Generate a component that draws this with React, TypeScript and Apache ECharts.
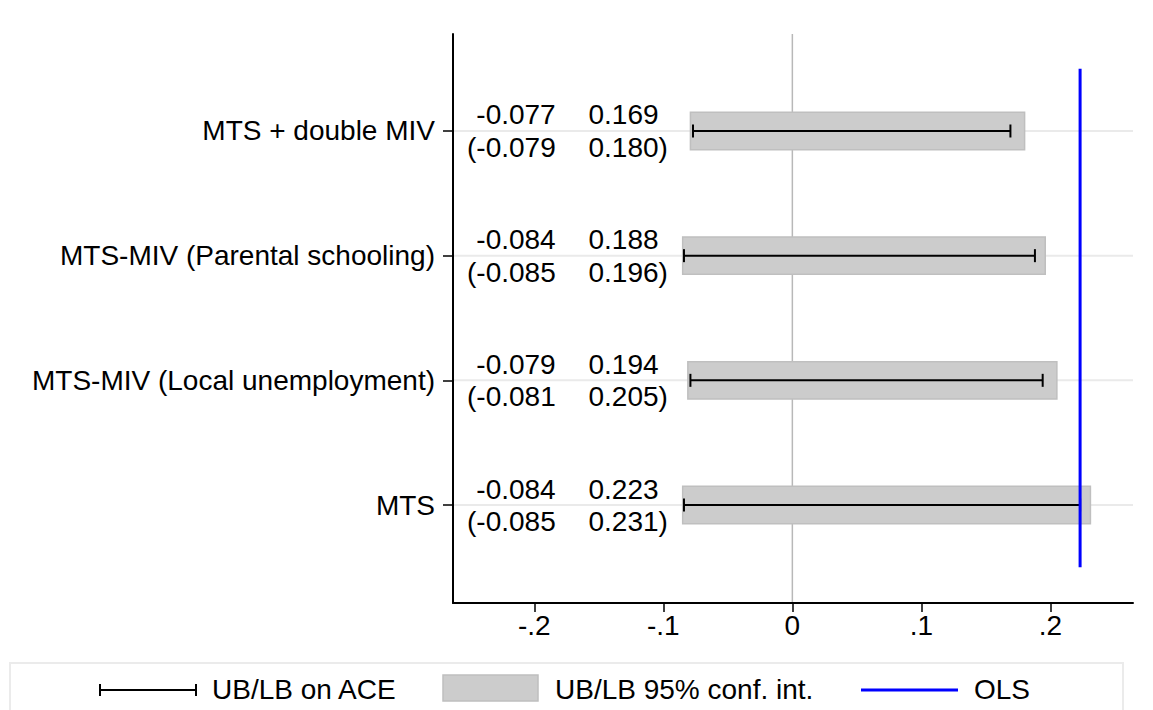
import React, { useEffect, useRef } from "react";
import * as echarts from "echarts";

const categories = [
  "MTS",
  "MTS-MIV (Local unemployment)",
  "MTS-MIV (Parental schooling)",
  "MTS + double MIV",
];
const positions = [1, 2, 3, 4];
const aceLower = [-0.084, -0.079, -0.084, -0.077];
const aceUpper = [0.223, 0.194, 0.188, 0.169];
const ciLower = [-0.085, -0.081, -0.085, -0.079];
const ciUpper = [0.231, 0.205, 0.196, 0.18];
const olsEstimate = 0.223;
const olsSpan = [0.5, 4.5];
const xTicks = [-0.2, -0.1, 0, 0.1, 0.2];
const xTickLabels = ["-.2", "-.1", "0", ".1", ".2"];

const FONT = "'Liberation Sans', Arial, Helvetica, sans-serif";
const FS = 28;
const LABEL_LEFT_X = -0.1834;
const LABEL_RIGHT_X = -0.158;

export default function App() {
  const ref = useRef<HTMLDivElement>(null);
  useEffect(() => {
    if (!ref.current) return;
    const chart = echarts.init(ref.current, undefined, { renderer: "svg" });
    const rows = positions.map((p, i) => [p, aceLower[i], aceUpper[i], ciLower[i], ciUpper[i]]);
    const fmt = (v: number) => v.toFixed(3);

    const option: any = {
      animation: false,
      backgroundColor: "#ffffff",
      grid: { left: 453, right: 20, top: 34, bottom: 107, containLabel: false },
      xAxis: {
        type: "value",
        min: -0.263,
        max: 0.264,
        axisLine: { show: true, onZero: false, lineStyle: { color: "#000", width: 2 } },
        axisTick: { show: true, customValues: xTicks, length: 9, lineStyle: { color: "#000", width: 1.5 } },
        axisLabel: {
          customValues: xTicks,
          color: "#000",
          fontSize: FS,
          fontFamily: FONT,
          margin: 8,
          formatter: (v: number) => {
            const i = xTicks.findIndex((t) => Math.abs(t - v) < 1e-9);
            return i >= 0 ? xTickLabels[i] : "";
          },
        },
        splitLine: { show: false },
      },
      yAxis: {
        type: "value",
        min: 0.214,
        max: 4.778,
        axisLine: { show: true, onZero: false, lineStyle: { color: "#000", width: 2 } },
        axisTick: { show: true, customValues: positions, length: 10, lineStyle: { color: "#000", width: 1.5 } },
        axisLabel: {
          customValues: positions,
          color: "#000",
          fontSize: FS,
          fontFamily: FONT,
          margin: 18,
          formatter: (v: number) => categories[Math.round(v) - 1] ?? "",
        },
        splitLine: { show: false },
      },
      graphic: [
        {
          type: "rect",
          shape: { x: 10, y: 663, width: 1113, height: 80 },
          style: { fill: "none", stroke: "#ebebeb", lineWidth: 2 },
        },
        { type: "line", shape: { x1: 100, y1: 690, x2: 196, y2: 690 }, style: { stroke: "#000", lineWidth: 2 } },
        { type: "line", shape: { x1: 100, y1: 684, x2: 100, y2: 696 }, style: { stroke: "#000", lineWidth: 2 } },
        { type: "line", shape: { x1: 196, y1: 684, x2: 196, y2: 696 }, style: { stroke: "#000", lineWidth: 2 } },
        {
          type: "text",
          x: 212,
          y: 689,
          style: { text: "UB/LB on ACE", fontSize: FS, fontFamily: FONT, fill: "#000", align: "left", verticalAlign: "middle" },
        },
        {
          type: "rect",
          shape: { x: 443, y: 675, width: 95, height: 26 },
          style: { fill: "#cccccc", stroke: "#bfbfbf", lineWidth: 1.5 },
        },
        {
          type: "text",
          x: 555,
          y: 689,
          style: { text: "UB/LB 95% conf. int.", fontSize: FS, fontFamily: FONT, fill: "#000", align: "left", verticalAlign: "middle" },
        },
        { type: "line", shape: { x1: 861, y1: 690, x2: 958, y2: 690 }, style: { stroke: "#0000ff", lineWidth: 3 } },
        {
          type: "text",
          x: 974,
          y: 689,
          style: { text: "OLS", fontSize: FS, fontFamily: FONT, fill: "#000", align: "left", verticalAlign: "middle" },
        },
      ],
      series: [
        {
          type: "custom",
          name: "grid",
          z: 1,
          data: positions.map((p) => [p]),
          encode: { y: 0 },
          renderItem: (params: any, api: any) => {
            const cs = params.coordSys;
            const y = api.coord([0, api.value(0)])[1];
            return {
              type: "line",
              shape: { x1: cs.x + 1, y1: y, x2: cs.x + cs.width, y2: y },
              style: { stroke: "#eaeaea", lineWidth: 2 },
            };
          },
        },
        {
          type: "custom",
          name: "zero",
          z: 2,
          data: [[0]],
          encode: { x: 0 },
          renderItem: (params: any, api: any) => {
            const cs = params.coordSys;
            const x = api.coord([api.value(0), 1])[0];
            return {
              type: "line",
              shape: { x1: x, y1: cs.y, x2: x, y2: cs.y + cs.height - 1 },
              style: { stroke: "#b8b8b8", lineWidth: 1.5 },
            };
          },
        },
        {
          type: "custom",
          name: "bounds",
          z: 3,
          data: rows,
          encode: { y: 0, x: [1, 2, 3, 4] },
          renderItem: (params: any, api: any) => {
            const pos = api.value(0);
            const lb = api.value(1);
            const ub = api.value(2);
            const clb = api.value(3);
            const cub = api.value(4);
            const a = api.coord([clb, pos]);
            const b = api.coord([cub, pos]);
            const h = api.size([0, 0.3])[1];
            const e1 = api.coord([lb, pos]);
            const e2 = api.coord([ub, pos]);
            const cy = a[1];
            const capH = 6.5;
            const lx = api.coord([LABEL_LEFT_X, pos])[0];
            const rx = api.coord([LABEL_RIGHT_X, pos])[0];
            const ts = (text: string, align: string) => ({
              text,
              fontSize: FS,
              fontFamily: FONT,
              fill: "#000",
              align,
              verticalAlign: "middle",
            });
            return {
              type: "group",
              children: [
                {
                  type: "rect",
                  shape: { x: a[0], y: cy - h / 2, width: b[0] - a[0], height: h },
                  style: { fill: "#cccccc", stroke: "#bfbfbf", lineWidth: 1.5 },
                },
                { type: "line", shape: { x1: e1[0], y1: cy, x2: e2[0], y2: cy }, style: { stroke: "#000", lineWidth: 2 } },
                { type: "line", shape: { x1: e1[0], y1: cy - capH, x2: e1[0], y2: cy + capH }, style: { stroke: "#000", lineWidth: 2 } },
                { type: "line", shape: { x1: e2[0], y1: cy - capH, x2: e2[0], y2: cy + capH }, style: { stroke: "#000", lineWidth: 2 } },
                { type: "text", x: lx, y: cy - 16, style: ts(fmt(lb), "right") },
                { type: "text", x: rx, y: cy - 16, style: ts(fmt(ub), "left") },
                { type: "text", x: lx, y: cy + 16.5, style: ts("(" + fmt(clb), "right") },
                { type: "text", x: rx, y: cy + 16.5, style: ts(fmt(cub) + ")", "left") },
              ],
            };
          },
        },
        {
          type: "line",
          name: "OLS",
          z: 4,
          data: olsSpan.map((y) => [olsEstimate, y]),
          showSymbol: false,
          symbol: "none",
          lineStyle: { color: "#0000ff", width: 3 },
        },
      ],
    };
    chart.setOption(option);
    return () => chart.dispose();
  }, []);
  return <div ref={ref} style={{ position: "fixed", left: 0, top: 0, width: 1153, height: 710 }} />;
}
